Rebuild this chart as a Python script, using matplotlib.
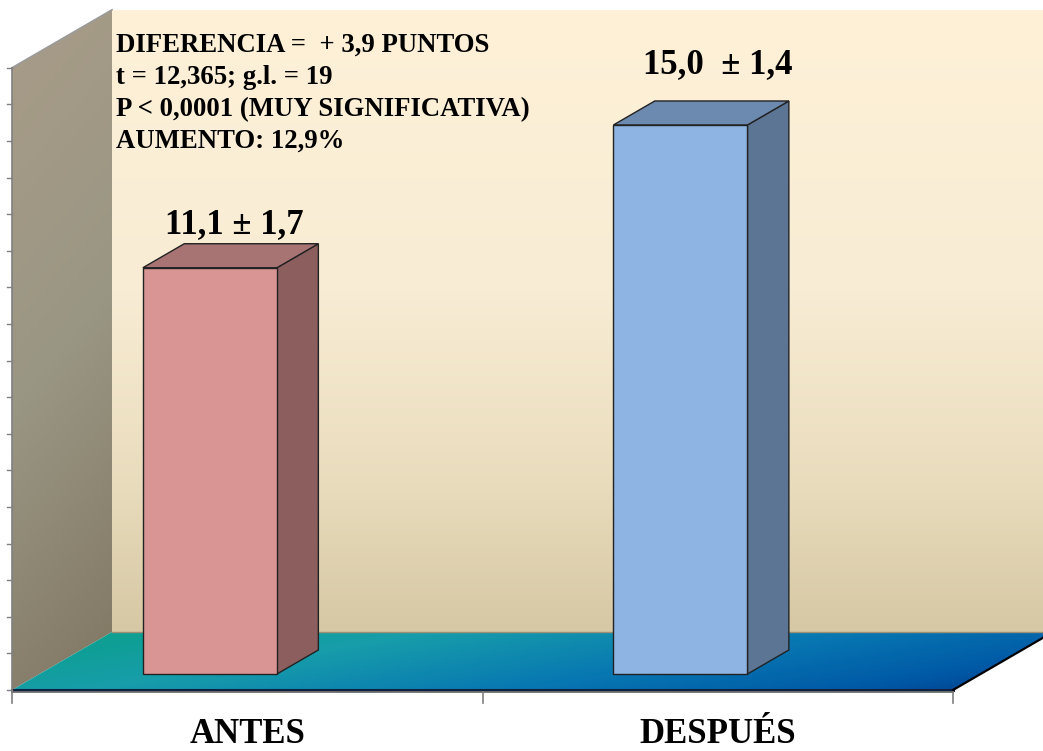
import numpy as np
import matplotlib
matplotlib.use("Agg")
import matplotlib.pyplot as plt
from matplotlib.patches import Polygon
from matplotlib.colors import LinearSegmentedColormap

# ---------------- data ----------------
categories = ["ANTES", "DESPUÉS"]
means = [11.1, 15.0]
value_labels = ["11,1 ± 1,7", "15,0  ± 1,4"]
annotation_lines = ["DIFERENCIA =  + 3,9 PUNTOS",
                    "t = 12,365; g.l. = 19",
                    "P < 0,0001 (MUY SIGNIFICATIVA)",
                    "AUMENTO: 12,9%"]
y_max = 17
y_step = 1

# ---------------- layout ----------------
W, H, DPI = 1043, 751, 100
fig = plt.figure(figsize=(W / DPI, H / DPI), dpi=DPI)
fig.patch.set_facecolor("white")
ax = fig.add_axes([0, 0, 1, 1])
ax.set_axis_off()

PX_X = 470.5   # pixels per category unit
PX_Y = 36.6    # pixels per value unit
X0, Y0 = 12, 690  # pixel position of (x=-0.5, y=0) front corner (from top-left)
xl = (-0.5 - X0 / PX_X, -0.5 + (W - X0) / PX_X)
yl = (-(H - Y0) / PX_Y, Y0 / PX_Y)
ax.set_xlim(*xl)
ax.set_ylim(*yl)

DX = 100 / PX_X
DY = 58 / PX_Y


def P(x, y, d):
    return (x + d * DX, y + d * DY)


n = len(categories)
xa, xb = -0.5, n - 0.5

# pixel grids for gradients
gy, gx = np.mgrid[0:H, 0:W]


def grad_image(t, stops):
    cmap = LinearSegmentedColormap.from_list("g", stops)
    return cmap(np.clip(t, 0, 1))


def fill_gradient(poly_pts, rgba, z):
    patch = Polygon(poly_pts, closed=True, facecolor="none", edgecolor="none", zorder=z)
    ax.add_patch(patch)
    im = ax.imshow(rgba, extent=(xl[0], xl[1], yl[0], yl[1]), origin="upper",
                   aspect="auto", zorder=z, interpolation="bilinear")
    im.set_clip_path(patch)


# back wall
back = [P(xa, 0, 1), P(xb, 0, 1), P(xb, y_max, 1), P(xa, y_max, 1)]
t_back = (gy - 10) / (632 - 10)
fill_gradient(back, grad_image(t_back, [(0, "#FEF1D8"), (0.45, "#F8ECD4"),
                                         (0.75, "#EADDBE"), (1, "#D6C8A4")]), 1)

# left wall
left = [P(xa, 0, 0), P(xa, 0, 1), P(xa, y_max, 1), P(xa, y_max, 0)]
t_left = (gy - 10) / (690 - 10) * 0.85 + (gx - 12) / 100 * 0.15
fill_gradient(left, grad_image(t_left, [(0, "#A89C88"), (0.5, "#9A9684"),
                                         (1, "#807662")]), 1)

# floor
floor = [P(xa, 0, 0), P(xb, 0, 0), P(xb, 0, 1), P(xa, 0, 1)]
t_floor = (gx - 12) / 1040 * 0.75 + (gy - 632) / 58 * 0.25
fill_gradient(floor, grad_image(t_floor, [(0, "#0AA088"), (0.3, "#179DAA"),
                                           (0.6, "#0878B2"), (0.85, "#0059A6"),
                                           (1, "#003C88")]), 1)

# edges of the walls / floor
ax.plot(*zip(P(xa, y_max, 0), P(xa, y_max, 1)), color="#9a9a9a", lw=1.2, zorder=2)
ax.plot(*zip(P(xa, 0, 1), P(xb, 0, 1)), color="#9c8f76", lw=1.0, zorder=2)
ax.plot(*zip(P(xa, 0, 0), P(xb, 0, 0)), color="#0d2240", lw=2.2, zorder=3)
ax.plot(*zip(P(xb, 0, 0), P(xb, 0, 1)), color="#000000", lw=1.6, zorder=3)

# axis lines and ticks
ax.plot([xa, xa], [0, y_max], color="#808080", lw=1.2, zorder=4)
for v in np.arange(0, y_max + y_step / 2, y_step):
    ax.plot([xa - 5 / PX_X, xa], [v, v], color="#808080", lw=1.0, zorder=4)
ax.plot([xa, xb], [-2 / PX_Y, -2 / PX_Y], color="#707070", lw=1.3, zorder=4)
for k in range(n + 1):
    xt = xa + k
    ax.plot([xt, xt], [-2 / PX_Y, -13 / PX_Y], color="#808080", lw=1.2, zorder=4)

# bars
BAR_OFF = -0.138
BAR_W = 0.285
DF, DB = 0.276, 0.69
bar_colors = [("#D99594", "#A87373", "#8C5E5E"),
              ("#8EB4E3", "#6C8AB0", "#5C7594")]
for i, v in enumerate(means):
    cx = i + BAR_OFF
    l, r = cx - BAR_W / 2, cx + BAR_W / 2
    fc, tc, sc = bar_colors[i]
    side = [P(r, 0, DF), P(r, 0, DB), P(r, v, DB), P(r, v, DF)]
    top = [P(l, v, DF), P(r, v, DF), P(r, v, DB), P(l, v, DB)]
    front = [P(l, 0, DF), P(r, 0, DF), P(r, v, DF), P(l, v, DF)]
    for pts, c in ((side, sc), (top, tc), (front, fc)):
        ax.add_patch(Polygon(pts, closed=True, facecolor=c, edgecolor="#222222",
                             lw=1.0, zorder=5))

# ---------------- text ----------------
serif = ["Liberation Serif", "DejaVu Serif"]


def ftext(xp, yp, s, **kw):
    fig.text(xp / W, 1 - yp / H, s, family=serif, weight="bold", **kw)


for j, line in enumerate(annotation_lines):
    ftext(116, 52 + 32 * j, line, fontsize=19.3, ha="left", va="baseline")

label_pos = [(234, 233), (718, 73)]
for (xp, yp), s in zip(label_pos, value_labels):
    ftext(xp, yp, s, fontsize=25, ha="center", va="baseline")

for i, c in enumerate(categories):
    ax.text(i, -53 / PX_Y, c, family=serif, weight="bold", fontsize=25,
            ha="center", va="baseline", zorder=6)

fig.savefig("out.png", dpi=DPI)
